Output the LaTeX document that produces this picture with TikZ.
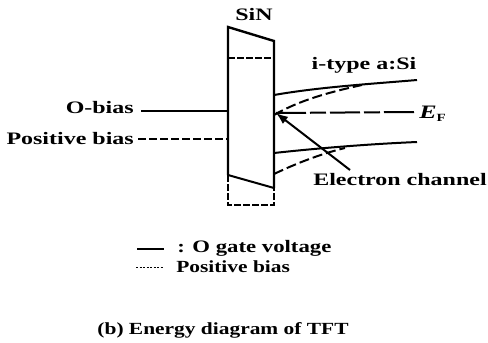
\documentclass[tikz,border=0pt]{standalone}
\usepackage{fontspec}
\usetikzlibrary{arrows.meta}
\setmainfont{Liberation Serif}
\begin{document}
\begin{tikzpicture}[x=1pt,y=-1pt,
 lbl/.style={inner sep=0pt,font=\bfseries\fontsize{17.5}{18}\selectfont,xscale=1.37},
 lblm/.style={inner sep=0pt,font=\bfseries\fontsize{17.5}{18}\selectfont,xscale=1.3},
 lbls/.style={inner sep=0pt,font=\bfseries\fontsize{17}{18}\selectfont,xscale=1.26},
 wall/.style={line width=2.4pt,black},
 band/.style={line width=2pt,black},
 dashb/.style={line width=2pt,black,dash pattern=on 10pt off 4pt},
 dashs/.style={line width=2pt,black,dash pattern=on 7pt off 2pt}]
\useasboundingbox (0,0) rectangle (488,343);
\coordinate (tl) at (228,27);
\coordinate (tr) at (274,41);
\coordinate (bl) at (228,175);
\coordinate (br) at (274,188);
\coordinate (dtl) at (228,58);
\coordinate (dtr) at (274,58);
\coordinate (dbl) at (228,205);
\coordinate (dbr) at (274,205);
\coordinate (ob) at (228,111);
\coordinate (pb) at (228,139);
\coordinate (ef) at (276,113);
\node[lbl,anchor=center] (sin) at (254,15) {SiN};
\node[lbl,anchor=center] (itype) at (364,65) {i-type a:Si};
\node[lbl,anchor=east] (obias) at (134,108) {O-bias};
\node[lbl,anchor=east] (pbias) at (134,139) {Positive bias};
\node[lbl,anchor=west,font=\bfseries\itshape\fontsize{19}{19}\selectfont] (efl) at (419,114) {E\raisebox{-3pt}{\fontsize{11}{11}\selectfont\upshape F}};
\node[lbl,anchor=center] (chan) at (400,180) {Electron channel};
\node[lblm,anchor=west] (leg1) at (177,248) {: O gate voltage};
\node[lbls,anchor=west] (leg2) at (176,267) {Positive bias};
\node[lbls,anchor=center] (cap) at (223,330) {(b) Energy diagram of TFT};
% barrier
\draw[wall] (bl) -- (tl) -- (tr) -- (br);
\draw[band] (bl) -- (br);
\draw[dashs] (dtl) -- (dtr);
\draw[dashs] (bl) -- (dbl) -- (dbr) -- (br);
% bias lines
\coordinate (o0) at (141,111); \coordinate (p0) at (138,139);
\draw[band] (o0) -- (ob);
\draw[dashs,dash pattern=on 8pt off 3pt] (p0) -- (pb);
% bands
\coordinate (c1) at (274,95); \coordinate (c2) at (417,80);
\coordinate (d1) at (274,115); \coordinate (d2) at (362,85);
\coordinate (v1) at (274,153); \coordinate (v2) at (417,142);
\coordinate (w1) at (274,174); \coordinate (w2) at (345,148);
\coordinate (e2) at (414,112);
\draw[band] (c1) .. controls (320,87) and (370,84) .. (c2);
\draw[dashb] (d1) .. controls (300,100) and (330,92) .. (d2);
\draw[band] (v1) .. controls (320,148) and (370,144) .. (v2);
\draw[dashb] (w1) .. controls (295,164) and (320,154) .. (w2);
\draw[dashb,dash pattern=on 30pt off 4pt on 16pt off 4pt] (ef) -- (e2);
\coordinate (a0) at (350,170);
\draw[band,-{Latex[length=12pt,width=9pt]}] (a0) -- (ef);
% legend
\coordinate (l1a) at (137,249); \coordinate (l1b) at (164,249);
\coordinate (l2a) at (136,267); \coordinate (l2b) at (163,267);
\draw[band] (l1a) -- (l1b);
\draw[line width=0.8pt,dash pattern=on 2pt off 1.5pt] (l2a) -- (l2b);
\end{tikzpicture}
\end{document}
